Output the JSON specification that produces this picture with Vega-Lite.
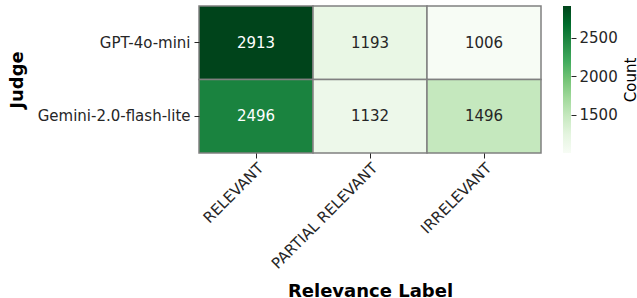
{
  "$schema": "https://vega.github.io/schema/vega-lite/v6.json",
  "background": "white",
  "padding": {"left": 8, "top": 5, "right": 2, "bottom": 2},
  "config": {
    "view": {"stroke": null},
    "font": "DejaVu Sans",
    "axis": {"labelFont": "DejaVu Sans", "titleFont": "DejaVu Sans", "labelColor": "#262626", "titleColor": "black", "tickColor": "#262626", "tickSize": 5, "domain": false, "grid": false, "labelFontSize": 15}
  },
  "datasets": {
    "cells": [
      {"judge": "GPT-4o-mini", "label": "RELEVANT", "count": 2913},
      {"judge": "GPT-4o-mini", "label": "PARTIAL RELEVANT", "count": 1193},
      {"judge": "GPT-4o-mini", "label": "IRRELEVANT", "count": 1006},
      {"judge": "Gemini-2.0-flash-lite", "label": "RELEVANT", "count": 2496},
      {"judge": "Gemini-2.0-flash-lite", "label": "PARTIAL RELEVANT", "count": 1132},
      {"judge": "Gemini-2.0-flash-lite", "label": "IRRELEVANT", "count": 1496}
    ],
    "range": [{"lo": 1006, "hi": 2913}]
  },
  "hconcat": [
    {
      "width": 342,
      "height": 147,
      "data": {"name": "cells"},
      "encoding": {
        "x": {"field": "label", "type": "nominal", "sort": ["RELEVANT", "PARTIAL RELEVANT", "IRRELEVANT"],
              "scale": {"paddingInner": 0, "paddingOuter": 0},
              "axis": {"title": "Relevance Label", "titleFontSize": 18, "titleFontWeight": "bold", "labelAngle": -45, "labelAlign": "right", "labelBaseline": "top", "labelPadding": 2, "titlePadding": 11}},
        "y": {"field": "judge", "type": "nominal", "sort": ["GPT-4o-mini", "Gemini-2.0-flash-lite"],
              "scale": {"paddingInner": 0, "paddingOuter": 0},
              "axis": {"title": "Judge", "titleFontSize": 18, "titleFontWeight": "bold", "labelPadding": 4, "titlePadding": 11}}
      },
      "layer": [
        {
          "mark": {"type": "rect", "stroke": "#808080", "strokeWidth": 1.5},
          "encoding": {
            "color": {"field": "count", "type": "quantitative", "legend": null,
              "scale": {"domain": [1006, 1244.375, 1482.75, 1721.125, 1959.5, 2197.875, 2436.25, 2674.625, 2913],
                        "range": ["#f7fcf5", "#e5f5e0", "#c7e9c0", "#a1d99b", "#74c476", "#41ab5d", "#238b45", "#006d2c", "#00441b"],
                        "interpolate": "rgb"}}
          }
        },
        {
          "mark": {"type": "text", "fontSize": 15, "font": "DejaVu Sans"},
          "encoding": {
            "text": {"field": "count", "type": "quantitative", "format": "d"},
            "color": {"condition": {"test": "datum.count > 2000", "value": "#ffffff"}, "value": "#262626"}
          }
        }
      ]
    },
    {
      "width": 8,
      "height": 147,
      "data": {"name": "range"},
      "mark": {"type": "rect", "color": {"gradient": "linear", "x1": 0, "y1": 1, "x2": 0, "y2": 0,
        "stops": [
          {"offset": 0, "color": "#f7fcf5"}, {"offset": 0.125, "color": "#e5f5e0"}, {"offset": 0.25, "color": "#c7e9c0"},
          {"offset": 0.375, "color": "#a1d99b"}, {"offset": 0.5, "color": "#74c476"}, {"offset": 0.625, "color": "#41ab5d"},
          {"offset": 0.75, "color": "#238b45"}, {"offset": 0.875, "color": "#006d2c"}, {"offset": 1, "color": "#00441b"}]}},
      "encoding": {
        "y": {"field": "lo", "type": "quantitative", "scale": {"domain": [1006, 2913], "nice": false, "zero": false},
              "axis": {"orient": "right", "values": [1500, 2000, 2500], "format": "d", "title": "Count", "titleFontSize": 15, "titleFontWeight": "normal", "titleAngle": -90, "titleBaseline": "top", "titlePadding": 6, "labelPadding": 3}},
        "y2": {"field": "hi"}
      }
    }
  ],
  "spacing": 21
}
